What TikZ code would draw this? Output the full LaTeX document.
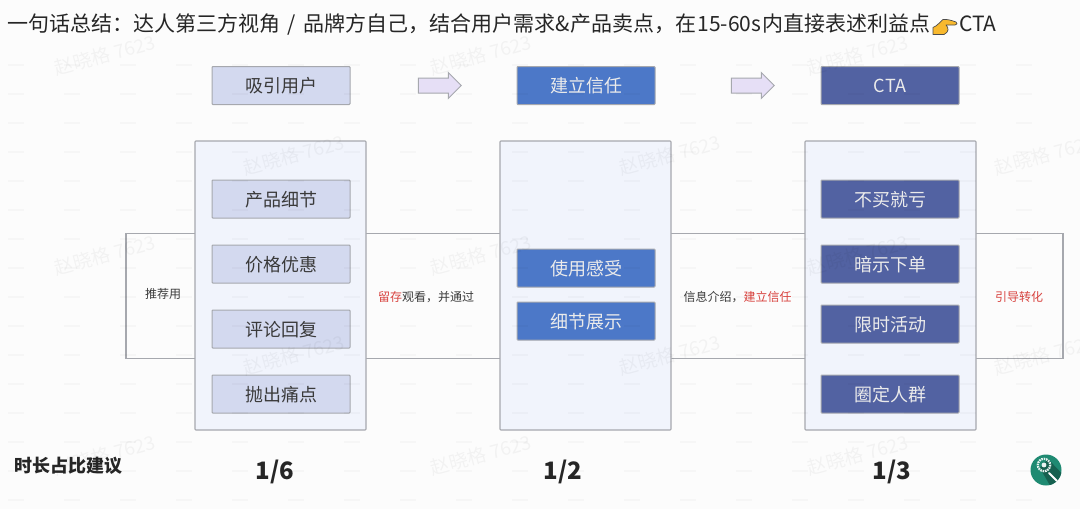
\documentclass[tikz,border=0pt]{standalone}
\usepackage{fontspec}
\setmainfont{Noto Sans CJK SC}
\usetikzlibrary{shapes.arrows}
\definecolor{softfill}{HTML}{D3D9EF}
\definecolor{trustfill}{HTML}{4C78C8}
\definecolor{ctafill}{HTML}{5262A2}
\definecolor{panelfill}{HTML}{F1F4FC}
\definecolor{edgegray}{HTML}{A6A8AE}
\definecolor{inkgray}{HTML}{3A3A3A}
\definecolor{hotred}{HTML}{D8433F}
\definecolor{arrowfill}{HTML}{E6DFF6}
\definecolor{iconfill}{HTML}{1F8A72}
\definecolor{handfill}{HTML}{F8B92E}
\begin{document}
\begin{tikzpicture}[
    x=1pt, y=-1pt,
    panel/.style={rectangle, draw=edgegray, fill=panelfill, line width=1.1pt, rounded corners=0.8pt, minimum width=171pt, minimum height=289pt},
    softbox/.style={rectangle, draw=edgegray, fill=softfill, line width=1pt, rounded corners=0.8pt, minimum width=138pt, minimum height=38pt, inner sep=0pt, text height=19pt, text depth=4.4pt, text=inkgray, font=\fontsize{18}{20}\selectfont},
    trustbox/.style={softbox, fill=trustfill, text=white!92!black},
    ctabox/.style={softbox, fill=ctafill, text=white!92!black},
    band/.style={rectangle, draw=edgegray, line width=1.3pt, minimum width=937pt, minimum height=125pt},
    flowarrow/.style={single arrow, draw=edgegray, fill=arrowfill, line width=1pt, minimum height=43pt, single arrow head extend=5.5pt, inner xsep=0pt, inner ysep=7pt},
    note/.style={inner sep=0pt, text=inkgray, font=\fontsize{12}{14}\selectfont},
    ratio/.style={inner sep=0pt, text=black!85, font=\fontsize{24}{26}\selectfont\bfseries},
    wmark/.style={inner sep=0pt, rotate=15, text=black, opacity=0.04, font=\fontsize{19}{21}\selectfont}
]
    \useasboundingbox (0,0) rectangle (1080,509);
    \fill[white!99!black] (0,0) rectangle (1080,509);

    % Title line
    \node[inner sep=0pt, anchor=west, text=black!85, font=\fontsize{21}{23}\selectfont] (headline) at (7,24) {一句话总结：达人第三方视角\hspace{3pt} / \hspace{3pt}品牌方自己，结合用户需求\&产品卖点，在\hspace{1.5pt}15-60s\hspace{1.5pt}内直接表述利益点};
    \node[inner sep=0pt, anchor=west, text=black!85, font=\fontsize{21}{23}\selectfont] (headcta) at (959,24) {CTA};
    \fill[fill=handfill, draw=black!70, line width=0.7pt, line join=round] (933,34.5) -- (933,27.5) .. controls (937,26) and (940,22) .. (943,19.5) .. controls (947,19) and (952,20.5) .. (956,22) .. controls (958,23) and (957,25) .. (955,25) -- (946,25) .. controls (949,28) and (949,32) .. (944,34.5) -- cycle;

    % Background band
    \node[band] (strip) at (594.5,296) {};

    % Column heads
    \node[softbox] (head1) at (281,85.5) {吸引用户};
    \node[trustbox] (head2) at (586,85.5) {建立信任};
    \node[ctabox] (head3) at (890,85.5) {CTA};
    \node[flowarrow] (flow1) at (436,85.5) {};
    \node[flowarrow] (flow2) at (749,85.5) {};

    % Panels
    \node[panel] (panel1) at (280.5,285.5) {};
    \node[panel] (panel2) at (585.5,285.5) {};
    \node[panel] (panel3) at (890.5,285.5) {};

    % First column
    \node[softbox] (a1) at (281,199) {产品细节};
    \node[softbox] (a2) at (281,264) {价格优惠};
    \node[softbox] (a3) at (281,329) {评论回复};
    \node[softbox] (a4) at (281,394) {抛出痛点};

    % Second column
    \node[trustbox] (b1) at (586,268) {使用感受};
    \node[trustbox] (b2) at (586,321) {细节展示};

    % Third column
    \node[ctabox] (c1) at (890,199) {不买就亏};
    \node[ctabox] (c2) at (890,264) {暗示下单};
    \node[ctabox] (c3) at (890,324) {限时活动};
    \node[ctabox] (c4) at (890,394) {圈定人群};

    % Band notes
    \node[note] (note1) at (163,294) {推荐用};
    \node[note] (note2) at (426,297) {\textcolor{hotred}{留存}观看，并通过};
    \node[note] (note3) at (737.5,297) {信息介绍，\textcolor{hotred}{建立信任}};
    \node[note] (note4) at (1019,297) {\textcolor{hotred}{引导转化}};

    % Bottom line
    \node[inner sep=0pt, anchor=west, text=black!85, font=\fontsize{18}{20}\selectfont\bfseries] (advice) at (14,466) {时长占比建议};
    \node[ratio] (r1) at (275,472) {1/6};
    \node[ratio] (r2) at (563,472) {1/2};
    \node[ratio] (r3) at (892,472) {1/3};

    % Search badge
    \fill[iconfill] (1046,470) circle (15.5);
    \begin{scope}
        \clip (1046,470) circle (15.5);
        \fill[iconfill!70!black] (1040,468) -- (1048,459) -- (1070,482) -- (1056,496) -- cycle;
    \end{scope}
    \draw[white, line width=2pt, line cap=round] (1049,473) -- (1057,481);
    \draw[white!90!iconfill, line width=2.2pt, dash pattern=on 1.5pt off 0.9pt] (1044,465) circle (6.2);
    \fill[white!90!iconfill] (1044,465) circle (2.4);

    % Watermarks
    \node[wmark] (w1) at (105,55) {赵晓格 7623};
    \node[wmark] (w2) at (481,55) {赵晓格 7623};
    \node[wmark] (w3) at (858,55) {赵晓格 7623};
    \node[wmark] (w4) at (294,155) {赵晓格 7623};
    \node[wmark] (w5) at (670,155) {赵晓格 7623};
    \node[wmark] (w6) at (1045,155) {赵晓格 7623};
    \node[wmark] (w7) at (105,255) {赵晓格 7623};
    \node[wmark] (w8) at (481,255) {赵晓格 7623};
    \node[wmark] (w9) at (858,255) {赵晓格 7623};
    \node[wmark] (w10) at (294,355) {赵晓格 7623};
    \node[wmark] (w11) at (670,355) {赵晓格 7623};
    \node[wmark] (w12) at (1045,355) {赵晓格 7623};
    \node[wmark] (w13) at (105,455) {赵晓格 7623};
    \node[wmark] (w14) at (481,455) {赵晓格 7623};
    \node[wmark] (w15) at (858,455) {赵晓格 7623};

    % Small marks
    \foreach \row in {0,...,15} {
        \foreach \col in {0,...,18} {
            \fill[black, opacity=0.025] ({16+56*\col-8},{65+29*\row+0.6}) rectangle ({16+56*\col+8},{65+29*\row-0.6});
        }
    }
\end{tikzpicture}
\end{document}
